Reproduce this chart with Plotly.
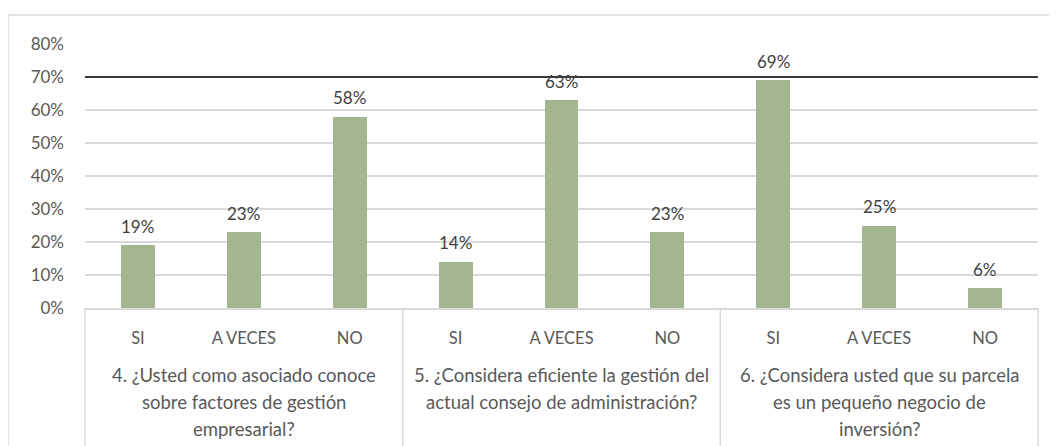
import plotly.graph_objects as go

categories = ["SI", "A VECES", "NO", "SI", "A VECES", "NO", "SI", "A VECES", "NO"]
values = [0.19, 0.23, 0.58, 0.14, 0.63, 0.23, 0.69, 0.25, 0.06]
group_lines = [
    ["4. ¿Usted como asociado conoce", "sobre factores de gestión", "empresarial?"],
    ["5. ¿Considera eficiente la gestión del", "actual consejo de administración?"],
    ["6. ¿Considera usted que su parcela", "es un pequeño negocio de", "inversión?"],
]
group_size = 3
reference_level = 0.70
y_ticks = [0, 0.1, 0.2, 0.3, 0.4, 0.5, 0.6, 0.7, 0.8]

FONT = "Lato, Calibri, Carlito, sans-serif"
TXT = "#595959"
GRID = "#d9d9d9"
BAR = "#A4B690"

xs = list(range(len(categories)))
n = len(categories)

# page has an 8px body margin: figure coords = window coords - 8
L, R, T, B = 77, 27, 36, 146
PH = 446 - T - B
PW = 1057 - L - R

fig = go.Figure()
fig.add_trace(go.Bar(
    x=xs, y=values, width=0.32,
    marker=dict(color=BAR, line=dict(width=0)),
    hoverinfo="skip",
))

shapes = []
# outer chart border
shapes.append(dict(type="rect", xref="paper", yref="paper",
                   x0=-L / PW, x1=1.2, y0=-1.0, y1=1 + 29 / PH,
                   line=dict(color=GRID, width=1.5), layer="below"))
# reference line
shapes.append(dict(type="line", xref="paper", yref="y", x0=0, x1=1,
                   y0=reference_level, y1=reference_level,
                   line=dict(color="#3a3a3a", width=2)))
# category table vertical separators
for g in range(len(group_lines) + 1):
    xp = (g * group_size) / n
    shapes.append(dict(type="line", xref="paper", yref="paper", x0=xp, x1=xp,
                       y0=0, y1=-0.7, line=dict(color=GRID, width=1.5)))

annotations = []
# data labels above bars
for x, v in zip(xs, values):
    annotations.append(dict(
        x=x, xref="x", y=v, yref="y", text=f"{v:.0%}", showarrow=False,
        xanchor="center", yanchor="middle", yshift=19,
        font=dict(family=FONT, size=17, color="#404040")))
# group labels
for g, lines in enumerate(group_lines):
    xc = (g * group_size + (group_size - 1) / 2)
    for k, line in enumerate(lines):
        annotations.append(dict(
            x=xc, xref="x", y=-(67 + 27 * k) / PH, yref="paper",
            text=line, showarrow=False, xanchor="center", yanchor="middle",
            font=dict(family=FONT, size=18.5, color=TXT)))

fig.update_layout(
    width=1057, height=446,
    margin=dict(l=L, r=R, t=T, b=B),
    paper_bgcolor="white", plot_bgcolor="white",
    showlegend=False,
    shapes=shapes, annotations=annotations,
    bargap=0,
    xaxis=dict(range=[-0.5, n - 0.5], tickvals=xs, ticktext=categories,
               showgrid=False, zeroline=False, showline=True, linecolor=GRID,
               linewidth=1.5, ticks="", ticklabelstandoff=14,
               tickfont=dict(family=FONT, size=16.5, color=TXT), fixedrange=True),
    yaxis=dict(range=[0, 0.8], tickvals=y_ticks, tickformat=".0%",
               showgrid=True, gridcolor=GRID, gridwidth=1.5, zeroline=False,
               showline=False, ticks="", ticklabelstandoff=20,
               tickfont=dict(family=FONT, size=17, color=TXT), fixedrange=True),
)

fig.write_html("out.html")
